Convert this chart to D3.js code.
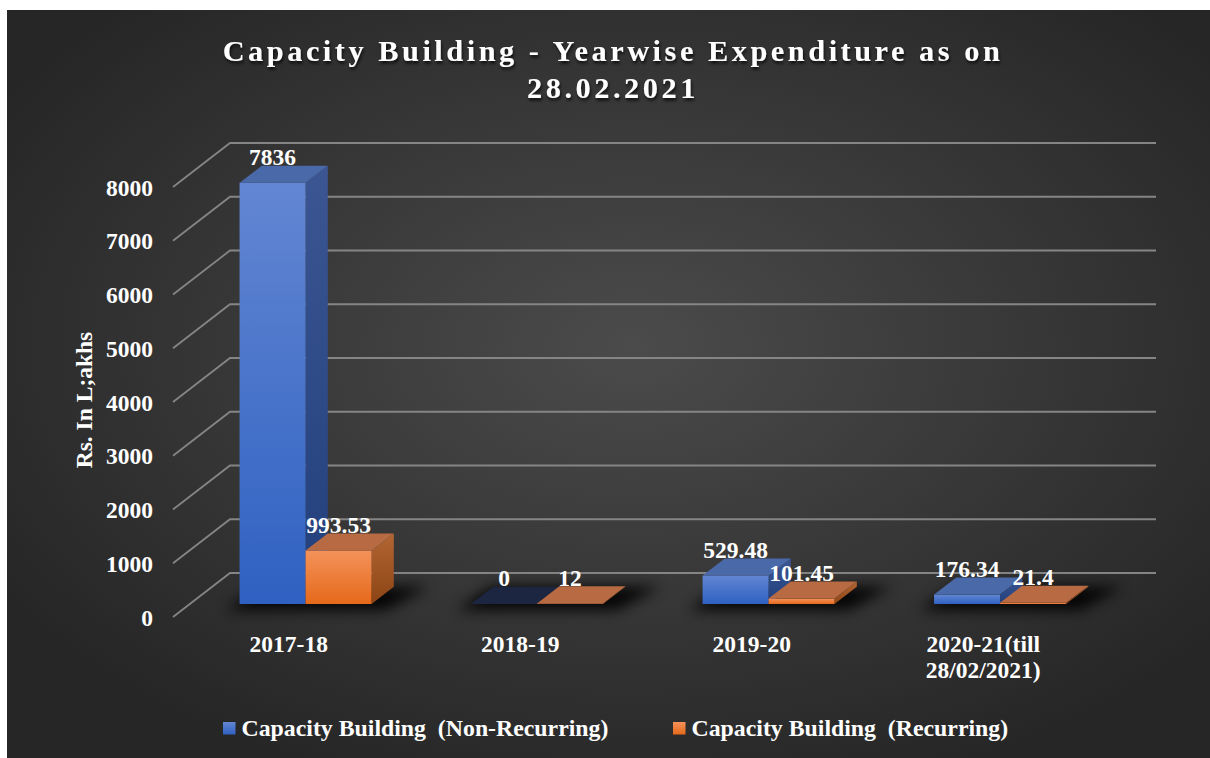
<!DOCTYPE html>
<html>
<head>
<meta charset="utf-8">
<script src="https://cdn.jsdelivr.net/npm/d3@7"></script>
<style>
  html, body { margin: 0; padding: 0; background: #ffffff; }
  svg { display: block; }
  text { font-family: "Liberation Serif", "Times New Roman", serif; font-weight: bold; fill: #ffffff; }
</style>
</head>
<body>
<svg id="chart" width="1210" height="758"></svg>
<script>
// ---- data ----
const categories = ["2017-18", "2018-19", "2019-20", "2020-21(till 28/02/2021)"];
const categoryLines = [["2017-18"], ["2018-19"], ["2019-20"], ["2020-21(till", "28/02/2021)"]];
const seriesNames = ["Capacity Building  (Non-Recurring)", "Capacity Building  (Recurring)"];
const nonRecurring = [7836, 0, 529.48, 176.34];
const recurring = [993.53, 12, 101.45, 21.4];
const yTicks = [0, 1000, 2000, 3000, 4000, 5000, 6000, 7000, 8000];
const chartTitle = ["Capacity Building - Yearwise Expenditure as on", "28.02.2021"];
const axisTitle = "Rs. In L;akhs";

const W = 1210, H = 758;
const svg = d3.select("#chart");
const defs = svg.append("defs");

// ---- background ----
const bg = defs.append("radialGradient").attr("id", "bg")
  .attr("cx", "52%").attr("cy", "45%").attr("r", "62%");
bg.append("stop").attr("offset", "0%").attr("stop-color", "#4b4b4b");
bg.append("stop").attr("offset", "100%").attr("stop-color", "#262626");
svg.append("rect").attr("x", 7).attr("y", 10).attr("width", W - 7).attr("height", H - 10)
  .attr("fill", "url(#bg)");

// gradients for bar faces
function vGrad(id, top, bottom) {
  const g = defs.append("linearGradient").attr("id", id)
    .attr("x1", 0).attr("y1", 0).attr("x2", 0).attr("y2", 1);
  g.append("stop").attr("offset", "0%").attr("stop-color", top);
  g.append("stop").attr("offset", "100%").attr("stop-color", bottom);
}
vGrad("blueFront", "#6286d2", "#2f61c2");
vGrad("blueSide", "#3b5693", "#223f7b");
vGrad("orangeFront", "#f4925a", "#e5691a");
vGrad("orangeSide", "#b36634", "#8c4414");

const faceStyle = [
  { front: "url(#blueFront)", side: "url(#blueSide)", top: "#4a69a8", topZero: "#1c2640" },
  { front: "url(#orangeFront)", side: "url(#orangeSide)", top: "#b86b43", topZero: "#b86b43" }
];

// filters
const blur = defs.append("filter").attr("id", "shadowBlur")
  .attr("x", "-50%").attr("y", "-100%").attr("width", "200%").attr("height", "300%");
blur.append("feGaussianBlur").attr("stdDeviation", 7);

const ts = defs.append("filter").attr("id", "titleShadow")
  .attr("x", "-5%").attr("y", "-30%").attr("width", "110%").attr("height", "160%");
ts.append("feDropShadow").attr("dx", 1).attr("dy", 2.5).attr("stdDeviation", 1.5)
  .attr("flood-color", "#000").attr("flood-opacity", 0.75);

// ---- scales and 3D projection ----
const x = d3.scaleBand().domain(categories).range([173, 1099]).padding(0);
const y = d3.scaleLinear().domain([0, 8000]).range([617, 187]);
const xInner = d3.scaleBand().domain([0, 1]).range([-66, 66]).padding(0);

const DEPTH_X = 57, DEPTH_Y = 44;       // full floor depth offset
const Z_FRONT = 0.295, Z_BACK = 0.685;  // bar front/back planes
const P = (px, py, z) => [px + z * DEPTH_X, py - z * DEPTH_Y];
const poly = pts => "M" + pts.map(p => p.join(",")).join("L") + "Z";

// ---- gridlines (left wall diagonal + back wall horizontal) ----
const gridG = svg.append("g");
yTicks.forEach(t => {
  const a = P(x.range()[0], y(t), 0);
  const b = P(x.range()[0], y(t), 1);
  const c = P(x.range()[1], y(t), 1);
  gridG.append("path")
    .attr("d", `M${a}L${b}L${c}`)
    .attr("fill", "none").attr("stroke", "#858585").attr("stroke-width", 1.8);
});

// ---- y axis labels ----
const yAxis = d3.axisLeft(y).tickValues(yTicks).tickSize(0).tickPadding(20).tickFormat(d3.format("d"));
const yAxisG = svg.append("g").attr("transform", `translate(${x.range()[0]},0)`).call(yAxis);
yAxisG.select(".domain").remove();
yAxisG.selectAll("text")
  .attr("font-family", null).attr("font-size", null)
  .style("font-size", "23.5px").attr("fill", "#fff").attr("dy", "0.34em");

// ---- bars ----
const values = [nonRecurring, recurring];
const barsG = svg.append("g");

categories.forEach((cat, ci) => {
  const cx = x(cat) + x.bandwidth() / 2;
  // soft shadow on floor beneath the group
  const l = cx + xInner(0) - 14, r = cx + xInner(1) + xInner.bandwidth() + 14;
  barsG.append("path")
    .attr("d", poly([P(l, y(0) + 6, Z_FRONT), P(r, y(0) + 6, Z_FRONT), P(r + 18, y(0) + 2, Z_BACK + 0.05), P(l + 10, y(0) + 2, Z_BACK + 0.05)]))
    .attr("fill", "#000").attr("opacity", 0.9).attr("filter", "url(#shadowBlur)");

  [0, 1].forEach(si => {
    const v = values[si][ci];
    const x0 = cx + xInner(si), x1 = x0 + xInner.bandwidth();
    const yv = y(v), y0 = y(0);
    const st = faceStyle[si];
    const g = barsG.append("g");
    g.append("path").attr("d", poly([P(x1, yv, Z_FRONT), P(x1, yv, Z_BACK), P(x1, y0, Z_BACK), P(x1, y0, Z_FRONT)]))
      .attr("fill", st.side);
    g.append("path").attr("d", poly([P(x0, yv, Z_FRONT), P(x1, yv, Z_FRONT), P(x1, y0, Z_FRONT), P(x0, y0, Z_FRONT)]))
      .attr("fill", st.front);
    g.append("path").attr("d", poly([P(x0, yv, Z_FRONT), P(x1, yv, Z_FRONT), P(x1, yv, Z_BACK), P(x0, yv, Z_BACK)]))
      .attr("fill", v === 0 ? st.topZero : st.top);
  });
});

// ---- value labels ----
const labelsG = svg.append("g");
categories.forEach((cat, ci) => {
  const cx = x(cat) + x.bandwidth() / 2;
  [0, 1].forEach(si => {
    const v = values[si][ci];
    const x0 = cx + xInner(si);
    const mid = x0 + xInner.bandwidth() / 2;
    const p = P(mid, y(v), Z_FRONT);
    const top = P(mid, y(v), Z_BACK);
    labelsG.append("text")
      .attr("x", p[0]).attr("y", top[1] - 0.5)
      .attr("text-anchor", "middle")
      .style("font-size", "23.5px")
      .text(String(v));
  });
});

// ---- category labels ----
const catG = svg.append("g");
categories.forEach((cat, ci) => {
  const cx = x(cat) + x.bandwidth() / 2;
  const t = catG.append("text").attr("text-anchor", "middle").style("font-size", "23.5px");
  categoryLines[ci].forEach((line, li) => {
    t.append("tspan").attr("x", cx).attr("y", 652 + li * 25.5).text(line);
  });
});

// ---- axis title ----
svg.append("text")
  .attr("transform", "translate(92,400) rotate(-90)")
  .attr("text-anchor", "middle")
  .style("font-size", "23.5px")
  .text(axisTitle);

// ---- chart title ----
const titleT = svg.append("text")
  .attr("text-anchor", "middle")
  .attr("filter", "url(#titleShadow)")
  .style("font-size", "30.4px").style("letter-spacing", "3.5px");
chartTitle.forEach((line, i) => {
  titleT.append("tspan").attr("x", 613).attr("y", 61 + i * 37).text(line);
});

// ---- legend ----
const legendX = [223, 673];
const legendG = svg.append("g");
seriesNames.forEach((name, i) => {
  legendG.append("rect").attr("x", legendX[i]).attr("y", 722).attr("width", 12.5).attr("height", 12.5)
    .attr("fill", i === 0 ? "url(#blueFront)" : "url(#orangeFront)");
  legendG.append("text").attr("x", legendX[i] + 18.5).attr("y", 736)
    .style("font-size", "23.8px").style("white-space", "pre")
    .text(name);
});
</script>
</body>
</html>
